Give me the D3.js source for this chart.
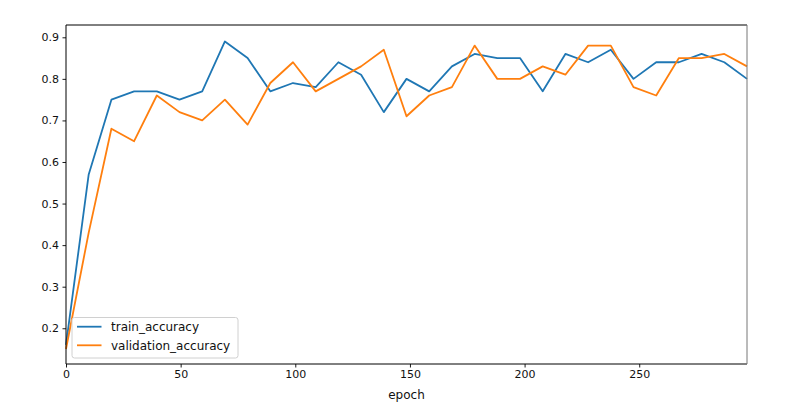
<!DOCTYPE html>
<html>
<head>
<meta charset="utf-8">
<script src="https://cdn.jsdelivr.net/npm/d3@7"></script>
<style>
  html, body { margin: 0; padding: 0; background: #fff; }
  svg { display: block; font-family: "DejaVu Sans", sans-serif; }
</style>
</head>
<body>
<svg id="chart" width="792" height="417"></svg>
<script>
const epochs = [0, 9.9, 19.8, 29.7, 39.6, 49.5, 59.4, 69.3, 79.2, 89.1, 99, 108.9, 118.8, 128.7, 138.6, 148.5,
  158.4, 168.3, 178.2, 188.1, 198, 207.9, 217.8, 227.7, 237.6, 247.5, 257.4, 267.3, 277.2, 287.1, 297];
const trainAccuracy = [0.16, 0.57, 0.75, 0.77, 0.77, 0.75, 0.77, 0.89, 0.85, 0.77, 0.79, 0.78, 0.84, 0.81, 0.72, 0.80,
  0.77, 0.83, 0.86, 0.85, 0.85, 0.77, 0.86, 0.84, 0.87, 0.80, 0.84, 0.84, 0.86, 0.84, 0.80];
const validationAccuracy = [0.15, 0.43, 0.68, 0.65, 0.76, 0.72, 0.70, 0.75, 0.69, 0.79, 0.84, 0.77, 0.80, 0.83, 0.87, 0.71,
  0.76, 0.78, 0.88, 0.80, 0.80, 0.83, 0.81, 0.88, 0.88, 0.78, 0.76, 0.85, 0.85, 0.86, 0.83];
const xTicks = [0, 50, 100, 150, 200, 250];
const yTicks = [0.2, 0.3, 0.4, 0.5, 0.6, 0.7, 0.8, 0.9];
const seriesNames = ["train_accuracy", "validation_accuracy"];
const seriesColors = ["#1f77b4", "#ff7f0e"];

const svg = d3.select("#chart");
const mLeft = 66, mRight = 747, mTop = 25, mBottom = 364;

const x = d3.scaleLinear().domain([0, 297]).range([mLeft, mRight]);
const y = d3.scaleLinear().domain([0.114, 0.9296]).range([mBottom, mTop]);

const series = [trainAccuracy, validationAccuracy];
const line = d3.line().x((d, i) => x(epochs[i])).y(d => y(d));

const plot = svg.append("g");
series.forEach((s, j) => {
  plot.append("path")
    .datum(s)
    .attr("fill", "none")
    .attr("stroke", seriesColors[j])
    .attr("stroke-width", 1.8)
    .attr("stroke-linejoin", "round")
    .attr("d", line);
});

// axes
const xAxis = svg.append("g")
  .attr("transform", `translate(0,${mBottom})`)
  .call(d3.axisBottom(x).tickValues(xTicks).tickFormat(d3.format("d")).tickSize(3.5).tickPadding(3));
const yAxis = svg.append("g")
  .attr("transform", `translate(${mLeft},0)`)
  .call(d3.axisLeft(y).tickValues(yTicks).tickFormat(d3.format(".1f")).tickSize(3.5).tickPadding(3.5));
[xAxis, yAxis].forEach(a => {
  a.select(".domain").remove();
  a.selectAll(".tick line").attr("stroke", "#000").attr("stroke-width", 0.9);
  a.selectAll(".tick text").attr("fill", "#111").style("font-size", "11px").style("font-family", "DejaVu Sans");
});

// spines
svg.append("line").attr("x1", mLeft).attr("x2", mRight).attr("y1", mTop).attr("y2", mTop).attr("stroke", "#000").attr("stroke-width", 1);
svg.append("line").attr("x1", mLeft).attr("x2", mRight).attr("y1", mBottom).attr("y2", mBottom).attr("stroke", "#000").attr("stroke-width", 1);
svg.append("line").attr("x1", mLeft).attr("x2", mLeft).attr("y1", mTop).attr("y2", mBottom).attr("stroke", "#000").attr("stroke-width", 1);
svg.append("line").attr("x1", mRight).attr("x2", mRight).attr("y1", mTop).attr("y2", mBottom).attr("stroke", "#777").attr("stroke-width", 1);

// x label
svg.append("text")
  .attr("x", (mLeft + mRight) / 2)
  .attr("y", 399)
  .attr("text-anchor", "middle")
  .attr("fill", "#111")
  .style("font-size", "12px")
  .text("epoch");

// legend
const lg = svg.append("g");
lg.append("rect")
  .attr("x", 72).attr("y", 317.5).attr("width", 166).attr("height", 40.5)
  .attr("rx", 2.5)
  .attr("fill", "#fff").attr("fill-opacity", 0.8)
  .attr("stroke", "#d0d0d0").attr("stroke-width", 1);
seriesNames.forEach((name, j) => {
  const yy = 326.7 + j * 18.6;
  lg.append("line")
    .attr("x1", 77).attr("x2", 101.5).attr("y1", yy).attr("y2", yy)
    .attr("stroke", seriesColors[j]).attr("stroke-width", 1.8);
  lg.append("text")
    .attr("x", 111).attr("y", yy + 4.3)
    .attr("fill", "#111")
    .style("font-size", "12px")
    .text(name);
});
</script>
</body>
</html>
